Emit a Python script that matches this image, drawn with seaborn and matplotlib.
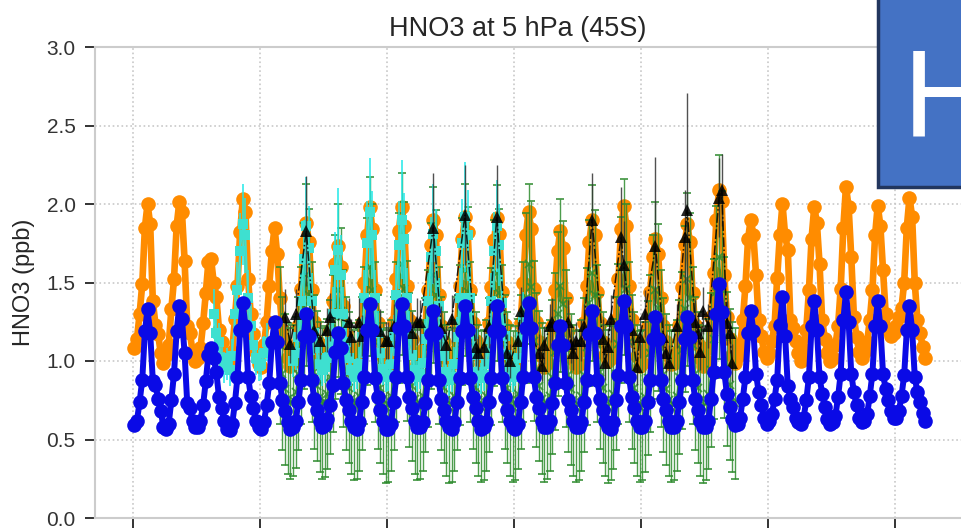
import numpy as np
import matplotlib
matplotlib.use('Agg')
import matplotlib.pyplot as plt
import seaborn as sns
from matplotlib.patches import Rectangle

nan = np.nan

# model run 1 (orange), monthly Jan 2000 - Dec 2024
model_a = [
    1.08, 1.14, 1.30, 1.49, 1.85, 2.00, 1.87, 1.38, 1.23, 1.17, 1.05, 0.99,
    1.04, 1.10, 1.33, 1.52, 1.86, 2.01, 1.95, 1.64, 1.22, 1.18, 1.06, 1.00,
    1.02, 1.08, 1.24, 1.43, 1.63, 1.65, 1.50, 1.41, 1.20, 1.12, 1.03, 0.98,
    1.00, 1.06, 1.27, 1.48, 1.82, 2.03, 1.95, 1.52, 1.30, 1.17, 1.06, 0.98,
    0.96, 1.10, 1.25, 1.48, 1.70, 1.85, 1.68, 1.40, 1.20, 1.13, 1.02, 0.97,
    1.00, 1.08, 1.22, 1.46, 1.75, 1.88, 1.76, 1.45, 1.25, 1.13, 1.04, 0.99,
    1.02, 1.10, 1.20, 1.38, 1.62, 1.73, 1.60, 1.35, 1.18, 1.10, 1.02, 0.97,
    0.99, 1.07, 1.24, 1.50, 1.80, 1.98, 1.84, 1.45, 1.24, 1.13, 1.03, 0.97,
    0.98, 1.06, 1.25, 1.52, 1.83, 1.98, 1.86, 1.48, 1.26, 1.14, 1.04, 0.98,
    1.00, 1.07, 1.22, 1.45, 1.74, 1.90, 1.80, 1.42, 1.22, 1.12, 1.02, 0.97,
    0.99, 1.06, 1.23, 1.48, 1.78, 1.92, 1.82, 1.45, 1.24, 1.13, 1.04, 0.98,
    1.00, 1.08, 1.24, 1.47, 1.77, 1.91, 1.81, 1.44, 1.23, 1.12, 1.02, 0.96,
    0.98, 1.06, 1.24, 1.50, 1.80, 1.95, 1.84, 1.46, 1.25, 1.12, 1.03, 0.96,
    0.99, 1.07, 1.22, 1.45, 1.70, 1.83, 1.72, 1.40, 1.20, 1.10, 1.01, 0.96,
    0.98, 1.07, 1.24, 1.48, 1.76, 1.90, 1.80, 1.44, 1.24, 1.12, 1.04, 1.00,
    1.02, 1.09, 1.26, 1.52, 1.84, 1.99, 1.86, 1.48, 1.26, 1.13, 1.03, 0.97,
    0.99, 1.07, 1.22, 1.44, 1.66, 1.78, 1.68, 1.40, 1.22, 1.12, 1.03, 0.98,
    0.99, 1.06, 1.23, 1.47, 1.74, 1.87, 1.76, 1.43, 1.23, 1.11, 1.02, 0.97,
    1.00, 1.08, 1.28, 1.56, 1.90, 2.09, 2.02, 1.55, 1.28, 1.14, 1.04, 0.99,
    1.03, 1.10, 1.26, 1.48, 1.78, 1.90, 1.80, 1.55, 1.26, 1.16, 1.06, 1.02,
    1.05, 1.13, 1.22, 1.53, 1.80, 2.00, 1.80, 1.71, 1.26, 1.21, 1.13, 1.05,
    1.00, 1.07, 1.20, 1.45, 1.78, 1.98, 1.88, 1.62, 1.26, 1.14, 1.05, 1.00,
    1.02, 1.10, 1.22, 1.46, 1.85, 2.11, 1.98, 1.66, 1.28, 1.15, 1.06, 1.02,
    1.06, 1.12, 1.26, 1.45, 1.80, 1.99, 1.86, 1.58, 1.30, 1.20, 1.16, 1.18,
    1.22, 1.28, 1.34, 1.50, 1.85, 2.04, 1.92, 1.50, 1.26, 1.18, 1.09, 1.02,
]

# model run 2 (blue), monthly Jan 2000 - Dec 2024
model_b = [
    0.59, 0.62, 0.74, 0.88, 1.19, 1.33, 1.18, 0.87, 0.85, 0.76, 0.68, 0.58,
    0.57, 0.60, 0.75, 0.92, 1.19, 1.35, 1.27, 1.05, 0.73, 0.70, 0.62, 0.58,
    0.58, 0.62, 0.72, 0.87, 1.04, 1.08, 1.02, 0.93, 0.77, 0.70, 0.62, 0.57,
    0.56, 0.60, 0.73, 0.90, 1.20, 1.37, 1.22, 0.90, 0.78, 0.70, 0.62, 0.58,
    0.57, 0.61, 0.72, 0.86, 1.12, 1.25, 1.12, 0.86, 0.75, 0.68, 0.61, 0.57,
    0.58, 0.62, 0.74, 0.88, 1.16, 1.30, 1.16, 0.88, 0.76, 0.69, 0.62, 0.58,
    0.59, 0.63, 0.72, 0.85, 1.06, 1.18, 1.08, 0.86, 0.75, 0.69, 0.62, 0.58,
    0.57, 0.61, 0.74, 0.90, 1.20, 1.36, 1.20, 0.89, 0.77, 0.69, 0.62, 0.57,
    0.57, 0.60, 0.74, 0.90, 1.21, 1.36, 1.22, 0.90, 0.77, 0.70, 0.62, 0.58,
    0.58, 0.61, 0.73, 0.88, 1.17, 1.32, 1.18, 0.88, 0.76, 0.69, 0.62, 0.58,
    0.57, 0.61, 0.74, 0.89, 1.19, 1.35, 1.20, 0.89, 0.77, 0.70, 0.62, 0.57,
    0.58, 0.61, 0.74, 0.89, 1.19, 1.35, 1.19, 0.89, 0.77, 0.69, 0.62, 0.58,
    0.57, 0.60, 0.74, 0.90, 1.21, 1.37, 1.21, 0.90, 0.77, 0.70, 0.62, 0.58,
    0.58, 0.62, 0.73, 0.86, 1.10, 1.22, 1.10, 0.86, 0.75, 0.69, 0.62, 0.58,
    0.58, 0.61, 0.74, 0.88, 1.17, 1.32, 1.18, 0.88, 0.76, 0.69, 0.62, 0.58,
    0.57, 0.61, 0.75, 0.91, 1.22, 1.38, 1.22, 0.90, 0.77, 0.70, 0.62, 0.58,
    0.58, 0.62, 0.74, 0.88, 1.14, 1.28, 1.14, 0.88, 0.76, 0.69, 0.62, 0.58,
    0.58, 0.62, 0.74, 0.88, 1.14, 1.28, 1.15, 0.88, 0.76, 0.69, 0.62, 0.58,
    0.58, 0.62, 0.76, 0.93, 1.30, 1.49, 1.31, 0.93, 0.79, 0.71, 0.63, 0.59,
    0.60, 0.64, 0.76, 0.90, 1.18, 1.32, 1.19, 0.92, 0.80, 0.72, 0.64, 0.60,
    0.62, 0.66, 0.76, 0.88, 1.23, 1.41, 1.16, 0.84, 0.76, 0.71, 0.64, 0.61,
    0.60, 0.64, 0.75, 0.90, 1.22, 1.38, 1.20, 0.90, 0.79, 0.71, 0.63, 0.60,
    0.61, 0.65, 0.77, 0.92, 1.26, 1.44, 1.25, 0.92, 0.80, 0.72, 0.64, 0.61,
    0.62, 0.66, 0.78, 0.92, 1.22, 1.38, 1.22, 0.92, 0.82, 0.75, 0.68, 0.64,
    0.64, 0.68, 0.78, 0.91, 1.20, 1.35, 1.20, 0.90, 0.80, 0.74, 0.67, 0.62,
]

# MIPAS (cyan), monthly Jul 2002 - Apr 2012, gap Apr-Dec 2004
mipas_hno3 = [
    1.30, 1.18, 1.12, 1.02, 0.96, 0.98,
    0.94, 1.03, 1.30, 1.45, 1.70, 1.87, 1.80, 1.40, 1.22, 1.10, 1.02, 0.97,
    0.98, 1.05, 1.12, nan, nan, nan, nan, nan, nan, nan, nan, nan,
    1.00, 1.05, 1.15, 1.38, 1.65, 1.86, 1.72, 1.38, 1.18, 1.08, 0.98, 0.94,
    0.96, 1.02, 1.12, 1.30, 1.58, 1.71, 1.55, 1.30, 1.12, 1.02, 0.94, 0.90,
    0.92, 0.98, 1.15, 1.40, 1.75, 1.95, 1.80, 1.40, 1.18, 1.05, 0.95, 0.90,
    0.91, 0.98, 1.16, 1.42, 1.74, 1.90, 1.78, 1.40, 1.18, 1.04, 0.94, 0.90,
    0.92, 0.99, 1.14, 1.38, 1.66, 1.81, 1.70, 1.35, 1.15, 1.03, 0.93, 0.88,
    0.90, 0.98, 1.15, 1.40, 1.75, 1.92, 1.80, 1.40, 1.17, 1.04, 0.93, 0.89,
    0.91, 0.98, 1.14, 1.38, 1.70, 1.86, 1.74, 1.37, 1.16, 1.04, 0.94, 0.90,
    0.94, 1.02, 1.15, 1.28,
]
mipas_err = [
    0.16, 0.13, 0.12, 0.11, 0.10, 0.10,
    0.10, 0.11, 0.14, 0.18, 0.24, 0.26, 0.24, 0.18, 0.14, 0.12, 0.11, 0.10,
    0.10, 0.11, 0.12, nan, nan, nan, nan, nan, nan, nan, nan, nan,
    0.10, 0.11, 0.13, 0.18, 0.25, 0.31, 0.27, 0.18, 0.14, 0.12, 0.10, 0.10,
    0.10, 0.11, 0.13, 0.17, 0.24, 0.39, 0.25, 0.17, 0.13, 0.11, 0.10, 0.10,
    0.10, 0.11, 0.13, 0.18, 0.27, 0.34, 0.28, 0.18, 0.14, 0.11, 0.10, 0.10,
    0.10, 0.11, 0.13, 0.19, 0.28, 0.38, 0.29, 0.19, 0.14, 0.11, 0.10, 0.10,
    0.10, 0.11, 0.13, 0.18, 0.26, 0.32, 0.27, 0.18, 0.13, 0.11, 0.10, 0.10,
    0.10, 0.11, 0.13, 0.19, 0.28, 0.35, 0.29, 0.19, 0.14, 0.11, 0.10, 0.10,
    0.10, 0.11, 0.13, 0.18, 0.25, 0.29, 0.26, 0.18, 0.13, 0.11, 0.10, 0.10,
    0.10, 0.11, 0.13, 0.16,
]

# MLS (green), monthly Aug 2004 - Dec 2018
mls_hno3 = [
    1.10, 0.92, 0.82, 0.76, 0.73,
    0.75, 0.80, 0.92, 1.10, 1.35, 1.55, 1.42, 1.12, 0.93, 0.84, 0.77, 0.73,
    0.74, 0.79, 0.90, 1.05, 1.28, 1.45, 1.32, 1.08, 0.92, 0.83, 0.76, 0.72,
    0.73, 0.78, 0.92, 1.10, 1.38, 1.60, 1.45, 1.12, 0.93, 0.83, 0.76, 0.71,
    0.72, 0.78, 0.92, 1.12, 1.40, 1.62, 1.46, 1.13, 0.94, 0.84, 0.76, 0.72,
    0.73, 0.78, 0.91, 1.08, 1.35, 1.55, 1.42, 1.10, 0.92, 0.83, 0.75, 0.71,
    0.72, 0.78, 0.92, 1.10, 1.38, 1.58, 1.44, 1.12, 0.93, 0.83, 0.75, 0.71,
    0.72, 0.78, 0.91, 1.09, 1.37, 1.56, 1.43, 1.11, 0.93, 0.83, 0.75, 0.71,
    0.73, 0.79, 0.93, 1.12, 1.40, 1.62, 1.47, 1.13, 0.94, 0.84, 0.76, 0.72,
    0.73, 0.78, 0.90, 1.06, 1.30, 1.48, 1.36, 1.08, 0.91, 0.82, 0.75, 0.71,
    0.72, 0.78, 0.91, 1.09, 1.37, 1.56, 1.42, 1.11, 0.93, 0.83, 0.75, 0.71,
    0.73, 0.79, 0.92, 1.11, 1.39, 1.60, 1.46, 1.12, 0.93, 0.83, 0.75, 0.71,
    0.72, 0.77, 0.89, 1.05, 1.28, 1.45, 1.34, 1.08, 0.91, 0.82, 0.75, 0.71,
    0.72, 0.78, 0.90, 1.07, 1.33, 1.52, 1.40, 1.10, 0.92, 0.83, 0.75, 0.71,
    0.73, 0.79, 0.94, 1.14, 1.44, 1.66, 1.50, 1.15, 0.95, 0.85, 0.77, 0.73,
]
mls_err = [
    0.50, 0.49, 0.48, 0.48, 0.48,
    0.48, 0.48, 0.49, 0.50, 0.53, 0.58, 0.55, 0.51, 0.49, 0.48, 0.48, 0.48,
    0.48, 0.48, 0.49, 0.50, 0.52, 0.55, 0.53, 0.50, 0.49, 0.48, 0.48, 0.48,
    0.48, 0.48, 0.49, 0.50, 0.53, 0.57, 0.55, 0.51, 0.49, 0.48, 0.48, 0.49,
    0.49, 0.48, 0.49, 0.51, 0.54, 0.58, 0.55, 0.51, 0.49, 0.48, 0.48, 0.48,
    0.48, 0.48, 0.49, 0.50, 0.53, 0.56, 0.54, 0.50, 0.49, 0.48, 0.48, 0.49,
    0.49, 0.48, 0.49, 0.51, 0.53, 0.55, 0.54, 0.51, 0.49, 0.48, 0.48, 0.48,
    0.48, 0.48, 0.49, 0.50, 0.53, 0.56, 0.54, 0.50, 0.49, 0.48, 0.48, 0.48,
    0.49, 0.48, 0.49, 0.51, 0.54, 0.51, 0.55, 0.51, 0.49, 0.48, 0.48, 0.49,
    0.48, 0.48, 0.49, 0.50, 0.52, 0.55, 0.53, 0.50, 0.49, 0.48, 0.48, 0.48,
    0.48, 0.48, 0.49, 0.50, 0.53, 0.56, 0.54, 0.50, 0.49, 0.48, 0.48, 0.49,
    0.49, 0.48, 0.49, 0.51, 0.53, 0.56, 0.54, 0.51, 0.49, 0.48, 0.48, 0.48,
    0.48, 0.48, 0.49, 0.50, 0.52, 0.56, 0.53, 0.50, 0.49, 0.48, 0.48, 0.48,
    0.48, 0.48, 0.49, 0.50, 0.53, 0.55, 0.54, 0.50, 0.49, 0.48, 0.48, 0.49,
    0.49, 0.48, 0.49, 0.51, 0.55, 0.65, 0.58, 0.51, 0.49, 0.48, 0.48, 0.48,
]

# ACE-FTS (black triangles)
ace_year = [2004, 2004,
            2005, 2005, 2005, 2005,
            2006, 2006, 2006, 2006,
            2007, 2007, 2007, 2007,
            2008, 2008, 2008, 2008,
            2009, 2009, 2009, 2009,
            2010, 2010, 2010, 2010,
            2011, 2011, 2011, 2011, 2011,
            2012, 2012, 2012, 2012, 2012,
            2013, 2013, 2013, 2013, 2013, 2013,
            2014, 2014, 2014, 2014, 2014, 2014,
            2015, 2015, 2015, 2015, 2015, 2015,
            2016, 2016, 2016, 2016, 2016,
            2017, 2017, 2017, 2017, 2017, 2017, 2017,
            2018, 2018, 2018, 2018, 2018, 2018]
ace_month = [10, 12,
             2, 6, 9, 11,
             2, 3, 10, 11,
             2, 3, 10, 12,
             1, 3, 10, 12,
             1, 6, 9, 11,
             1, 6, 10, 11,
             1, 3, 6, 10, 11,
             2, 3, 10, 11, 12,
             2, 3, 9, 10, 11, 12,
             2, 3, 6, 10, 11, 12,
             1, 5, 6, 9, 11, 12,
             2, 6, 9, 10, 11,
             2, 5, 6, 9, 10, 11, 12,
             2, 6, 7, 9, 10, 11]
ace_hno3 = [1.28, 1.11,
            1.30, 1.83, 1.20, 1.13,
            1.20, 1.28, 1.25, 1.15,
            1.25, 1.16, 1.19, 1.13,
            1.13, 1.22, 1.18, 1.25,
            1.25, 1.85, 1.21, 1.10,
            1.27, 1.93, 1.09, 1.05,
            1.09, 1.22, 1.92, 1.05, 1.00,
            1.13, 1.32, 1.05, 0.97, 1.10,
            1.22, 1.25, 1.25, 1.11, 1.05, 1.13,
            1.13, 1.22, 1.90, 1.14, 0.99, 1.09,
            1.27, 1.79, 1.61, 1.20, 0.96, 1.15,
            1.30, 1.73, 1.15, 1.05, 0.99,
            1.22, 1.79, 1.96, 1.25, 1.18, 1.06, 1.32,
            1.22, 2.04, 2.09, 1.24, 1.18, 0.99]
ace_err = [0.18, 0.12,
           0.16, 0.35, 0.15, 0.12,
           0.14, 0.15, 0.15, 0.12,
           0.15, 0.13, 0.14, 0.12,
           0.12, 0.14, 0.13, 0.15,
           0.14, 0.35, 0.14, 0.12,
           0.15, 0.32, 0.12, 0.11,
           0.12, 0.14, 0.33, 0.12, 0.11,
           0.12, 0.15, 0.12, 0.10, 0.12,
           0.14, 0.15, 0.14, 0.12, 0.11, 0.12,
           0.13, 0.14, 0.30, 0.13, 0.11, 0.12,
           0.15, 0.32, 0.28, 0.14, 0.11, 0.13,
           0.15, 0.57, 0.13, 0.12, 0.11,
           0.14, 0.30, 0.75, 0.14, 0.13, 0.12, 0.15,
           0.14, 0.25, 0.23, 0.14, 0.13, 0.12]


def month_axis(year0, month0, n):
    # mid-month positions in decimal years
    idx = np.arange(n) + month0 - 1
    return year0 + (idx + 0.5) / 12.0


t_model = month_axis(2000, 1, len(model_a))
t_mipas = month_axis(2002, 7, len(mipas_hno3))
t_mls = month_axis(2004, 8, len(mls_hno3))
t_ace = np.array(ace_year) + (np.array(ace_month) - 0.5) / 12.0

sns.set_style('ticks')
plt.rcParams['font.family'] = ['Liberation Sans', 'DejaVu Sans']

fig = plt.figure(figsize=(9.61, 5.29), dpi=100)
ax = fig.add_axes([95 / 961, 11 / 529, 905 / 961, 471 / 529])

sns.lineplot(x=t_model, y=model_a, ax=ax, color='#ff8c00', linewidth=4.8,
             marker='o', markersize=10.5, markeredgewidth=0, zorder=2)

ax.errorbar(t_mls, mls_hno3, yerr=mls_err, fmt='x-', color='#2e8b2e', ms=5.5,
            mew=1.3, lw=0.9, elinewidth=1.0, capsize=3, capthick=1.0,
            alpha=0.85, zorder=3)

ax.errorbar(t_mipas, mipas_hno3, yerr=mipas_err, fmt='s-', color='#3ee0d0',
            ecolor='#20e8e8', ms=7, mew=0, lw=1.2, elinewidth=1.1,
            capsize=3, capthick=1.1, zorder=4)

ax.errorbar(t_ace, ace_hno3, yerr=ace_err, fmt='^-.', color='black',
            ecolor='#333333', ms=8, mew=0, lw=1.1, elinewidth=1.0,
            capsize=3, capthick=1.1, alpha=0.85, zorder=5)

sns.lineplot(x=t_model, y=model_b, ax=ax, color='#0a0ae6', linewidth=4.3,
             marker='o', markersize=10.5, markeredgewidth=0, zorder=6)

ax.set_xlim(1998.803, 2027.31)
ax.set_ylim(0, 3.0)
ax.set_xticks(np.arange(2000, 2025, 4))
ax.set_yticks(np.arange(0, 3.01, 0.5))
ax.set_yticklabels(['%.1f' % v for v in np.arange(0, 3.01, 0.5)])
ax.grid(True, linestyle=':', color='#c8c8c8', linewidth=1.2)
ax.tick_params(axis='both', direction='out', length=7, width=1.4,
               color='#333333', labelsize=15, labelcolor='#333333', pad=7)
ax.tick_params(axis='x', labelbottom=False)
for s in ax.spines.values():
    s.set_color('#cccccc')
    s.set_linewidth(1.5)

ax.set_title('HNO3 at 5 hPa (45S)', fontsize=19.5, color='#262626',
             x=(518 - 95) / 905, pad=8)
ax.set_ylabel('HNO3 (ppb)', fontsize=17, color='#262626', labelpad=8)

# slide overlay box in the top-right corner
fig.add_artist(Rectangle((878 / 961, (529 - 187) / 529), 0.2, 0.5,
                         transform=fig.transFigure, facecolor='#4472c4',
                         edgecolor='#22365e', linewidth=2.5, zorder=10))
fig.text(903 / 961, (529 - 137) / 529, 'H', fontsize=90, color='white',
         ha='left', va='baseline', zorder=11)

fig.savefig('out.png', dpi=100)
